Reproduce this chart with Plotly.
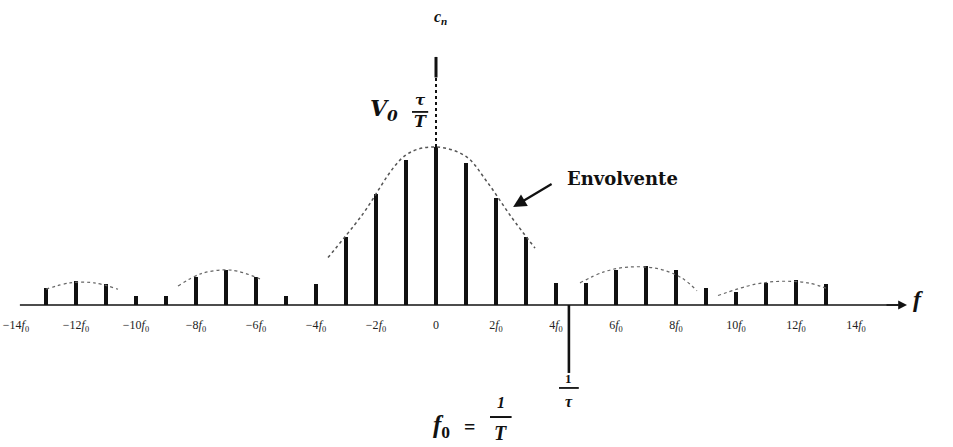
import plotly.graph_objects as go

# Harmonic index n (line at f = n*f0) and line amplitudes relative to V0*tau/T
harmonics = list(range(-13, 14))
amplitudes = [
    0.11, 0.15, 0.13, 0.06, 0.06, 0.18, 0.22, 0.18, 0.06, 0.13, 0.43, 0.70, 0.92,
    1.00,
    0.90, 0.68, 0.43, 0.14, 0.14, 0.22, 0.25, 0.22, 0.11, 0.08, 0.14, 0.16, 0.13,
]

# Dotted envelope, main lobe and side lobes (n, amplitude)
env_main_n = [-3.6, -2.5, -1.0, 0.0, 1.0, 1.7, 2.5, 3.3]
env_main_a = [0.30, 0.56, 0.95, 1.00, 0.94, 0.78, 0.56, 0.36]
env_side = [
    ([-13.0, -12.2, -11.4, -10.6], [0.10, 0.14, 0.14, 0.10]),
    ([-8.6, -7.8, -6.8, -5.8], [0.12, 0.20, 0.22, 0.16]),
    ([4.8, 5.6, 6.4, 7.4, 8.2, 8.7], [0.14, 0.21, 0.24, 0.23, 0.17, 0.09]),
    ([9.4, 10.6, 11.5, 12.4, 13.1], [0.06, 0.13, 0.15, 0.14, 0.10]),
]

# Tick labels along the frequency axis
tick_n = list(range(-14, 15, 2))
tick_text = [("0" if k == 0 else ("\u2212" if k < 0 else "") + f"{abs(k)}<i>f</i><sub>0</sub>")
             for k in tick_n]

first_zero = 4.43  # 1/tau expressed in units of f0
axis_start, axis_end = -13.87, 15.7

SERIF = "DejaVu Serif, Liberation Serif, serif"
SERIF2 = "Liberation Serif, DejaVu Serif, serif"
INK = "#111111"

fig = go.Figure()

# Envelope (dotted)
fig.add_trace(go.Scatter(x=env_main_n, y=env_main_a, mode="lines",
                         line=dict(color="#555", width=1.5, dash="dot", shape="spline"),
                         hoverinfo="skip"))
for sn, sa in env_side:
    fig.add_trace(go.Scatter(x=sn, y=sa, mode="lines",
                             line=dict(color="#666", width=1.2, dash="dot", shape="spline"),
                             hoverinfo="skip"))

# Spectral lines
fig.add_trace(go.Bar(x=harmonics, y=amplitudes, width=0.12,
                     marker=dict(color=INK, line=dict(width=0))))

# Frequency axis line with arrow
fig.add_shape(type="line", x0=axis_start, x1=axis_end - 0.3, y0=0, y1=0,
              line=dict(color=INK, width=1.6))
fig.add_annotation(x=axis_end, y=0, ax=-22, ay=0, text="", showarrow=True,
                   arrowhead=2, arrowsize=1.1, arrowwidth=1.6, arrowcolor=INK)

# Vertical c_n axis above the central line
fig.add_shape(type="line", x0=0, x1=0, y0=1.0, y1=1.44,
              line=dict(color=INK, width=2, dash="dot"))
fig.add_shape(type="line", x0=0, x1=0, y0=1.44, y1=1.57,
              line=dict(color=INK, width=3))
fig.add_annotation(x=0.15, y=1.82, text="<b><i>c<sub>n</sub></i></b>", showarrow=False,
                   font=dict(family=SERIF2, size=16, color=INK))

# V0 * tau / T label
fig.add_annotation(x=-1.75, y=1.235, text="<b><i>V<sub>0</sub></i></b>", showarrow=False,
                   font=dict(family=SERIF, size=22, color=INK))
fig.add_annotation(x=-0.53, y=1.30, text="<b><i>\u03c4</i></b>", showarrow=False,
                   font=dict(family=SERIF, size=15, color=INK))
fig.add_shape(type="line", x0=-0.8, x1=-0.26, y0=1.222, y1=1.222,
              line=dict(color=INK, width=1.8))
fig.add_annotation(x=-0.53, y=1.16, text="<b><i>T</i></b>", showarrow=False,
                   font=dict(family=SERIF, size=16, color=INK))

# Envelope label with arrow
fig.add_annotation(x=6.2, y=0.80, text="<b>Envolvente</b>", showarrow=False,
                   font=dict(family=SERIF, size=18, color=INK))
fig.add_annotation(x=2.57, y=0.62, ax=40, ay=-24, text="", showarrow=True,
                   arrowhead=2, arrowsize=1.2, arrowwidth=2.2, arrowcolor=INK)

# Axis name f
fig.add_annotation(x=16.05, y=0.04, text="<b><i>f</i></b>", showarrow=False,
                   font=dict(family=SERIF2, size=24, color=INK))

# 1/tau marker below the axis
fig.add_shape(type="line", x0=first_zero, x1=first_zero, y0=0, y1=-0.43,
              line=dict(color=INK, width=2.6))
fig.add_annotation(x=first_zero, y=-0.465, text="<b>1</b>", showarrow=False,
                   font=dict(family=SERIF2, size=13, color=INK))
fig.add_shape(type="line", x0=first_zero - 0.33, x1=first_zero + 0.33, y0=-0.525, y1=-0.525,
              line=dict(color=INK, width=1.8))
fig.add_annotation(x=first_zero, y=-0.61, text="<b><i>\u03c4</i></b>", showarrow=False,
                   font=dict(family=SERIF2, size=16, color=INK))

# f0 = 1/T
fig.add_annotation(x=0.17, y=-0.77, text="<b><i>f</i><sub>0</sub></b>", showarrow=False,
                   font=dict(family=SERIF2, size=25, color=INK))
fig.add_annotation(x=1.13, y=-0.775, text="<b>=</b>", showarrow=False,
                   font=dict(family=SERIF2, size=20, color=INK))
fig.add_annotation(x=2.15, y=-0.615, text="<b><i>1</i></b>", showarrow=False,
                   font=dict(family=SERIF2, size=16, color=INK))
fig.add_shape(type="line", x0=1.8, x1=2.52, y0=-0.709, y1=-0.709,
              line=dict(color=INK, width=2))
fig.add_annotation(x=2.15, y=-0.81, text="<b><i>T</i></b>", showarrow=False,
                   font=dict(family=SERIF2, size=20, color=INK))

fig.update_layout(
    width=953, height=447,
    margin=dict(l=0, r=0, t=0, b=0),
    paper_bgcolor="white", plot_bgcolor="white",
    showlegend=False, bargap=0,
    xaxis=dict(range=[-14.533, 17.233], anchor="free", position=0.3177,
               showgrid=False, zeroline=False, showline=False,
               tickmode="array", tickvals=tick_n, ticktext=tick_text,
               ticks="outside", ticklen=9, tickcolor="rgba(0,0,0,0)",
               tickfont=dict(family=SERIF2, size=12, color="#222")),
    yaxis=dict(range=[-0.8987, 1.9304], visible=False, showgrid=False, zeroline=False),
)

fig.write_html("out.html")
